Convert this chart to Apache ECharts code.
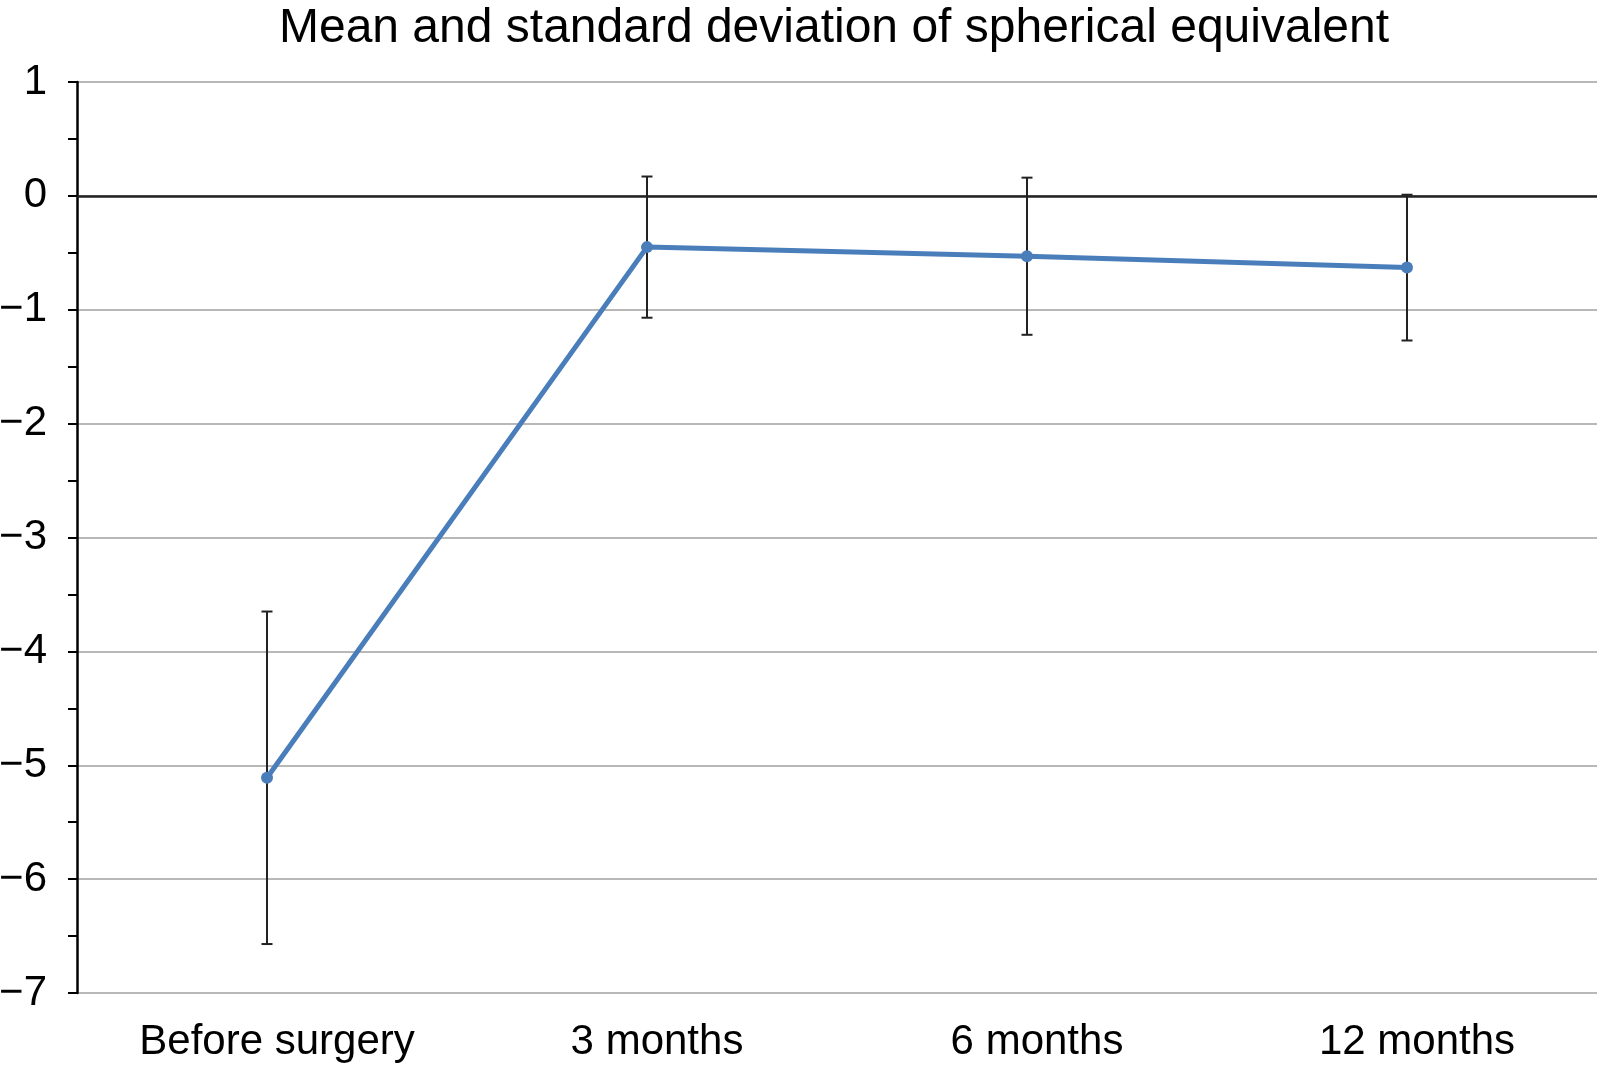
<!DOCTYPE html>
<html>
<head>
<meta charset="utf-8">
<script src="https://cdn.jsdelivr.net/npm/echarts@6/dist/echarts.min.js"></script>
<style>html,body{margin:0;padding:0;background:#fff}#c{width:1597px;height:1065px}</style>
</head>
<body>
<div id="c"></div>
<script>
var titleText = 'Mean and standard deviation of spherical equivalent';
var categories = ['Before surgery', '3 months', '6 months', '12 months'];
var means = [-5.11, -0.45, -0.53, -0.63];
var sds = [1.46, 0.62, 0.69, 0.64];
var yTicks = [-7, -6, -5, -4, -3, -2, -1, 0, 1];

var errData = categories.map(function (c, i) {
  return [i, +(means[i] - sds[i]).toFixed(3), +(means[i] + sds[i]).toFixed(3)];
});

var chart = echarts.init(document.getElementById('c'), null, {renderer: 'canvas'});
var font = 'Liberation Sans, Arial, Helvetica, sans-serif';
chart.setOption({
  animation: false,
  backgroundColor: '#fff',
  title: {
    text: titleText,
    left: 829,
    textAlign: 'center',
    top: 0,
    textStyle: {fontFamily: font, fontSize: 48, fontWeight: 'normal', color: '#000'}
  },
  grid: {left: 77, right: 0, top: 82, bottom: 72, containLabel: false, outerBoundsMode: 'none'},
  xAxis: {
    type: 'category',
    data: categories,
    boundaryGap: true,
    axisLine: {show: false},
    axisTick: {show: false},
    axisLabel: {fontFamily: font, fontSize: 42, color: '#000', margin: 28, interval: 0, padding: [0, 0, 0, 20]},
    splitLine: {show: false}
  },
  yAxis: {
    type: 'value',
    min: yTicks[0],
    max: yTicks[yTicks.length - 1],
    interval: 1,
    axisLine: {show: true, lineStyle: {color: '#000', width: 2.5}},
    axisTick: {show: true, inside: false, length: 9, lineStyle: {color: '#000', width: 2}},
    minorTick: {show: true, splitNumber: 2, length: 9, lineStyle: {color: '#000', width: 2}},
    axisLabel: {
      fontFamily: font, fontSize: 42, color: '#000', margin: 30,
      formatter: function (v) { return String(v).replace('-', '\u2212'); }
    },
    splitLine: {show: true, lineStyle: {color: '#a0a0a0', width: 1.5}}
  },
  series: [
    {
      type: 'custom',
      z: 3,
      data: errData,
      renderItem: function (params, api) {
        var x = api.value(0);
        var lo = api.coord([x, api.value(1)]);
        var hi = api.coord([x, api.value(2)]);
        var hw = 5.5;
        var st = {stroke: '#222', lineWidth: 2};
        return {
          type: 'group',
          children: [
            {type: 'line', shape: {x1: lo[0], y1: lo[1], x2: hi[0], y2: hi[1]}, style: st},
            {type: 'line', shape: {x1: lo[0] - hw, y1: lo[1], x2: lo[0] + hw, y2: lo[1]}, style: st},
            {type: 'line', shape: {x1: hi[0] - hw, y1: hi[1], x2: hi[0] + hw, y2: hi[1]}, style: st}
          ]
        };
      }
    },
    {
      type: 'line',
      z: 4,
      data: means,
      symbol: 'circle',
      symbolSize: 12,
      lineStyle: {color: '#4a7ebb', width: 5},
      itemStyle: {color: '#4a7ebb'},
      markLine: {
        silent: true,
        symbol: 'none',
        label: {show: false},
        lineStyle: {color: '#222', width: 2.5, type: 'solid'},
        data: [{yAxis: 0}]
      }
    }
  ]
});
</script>
</body>
</html>
